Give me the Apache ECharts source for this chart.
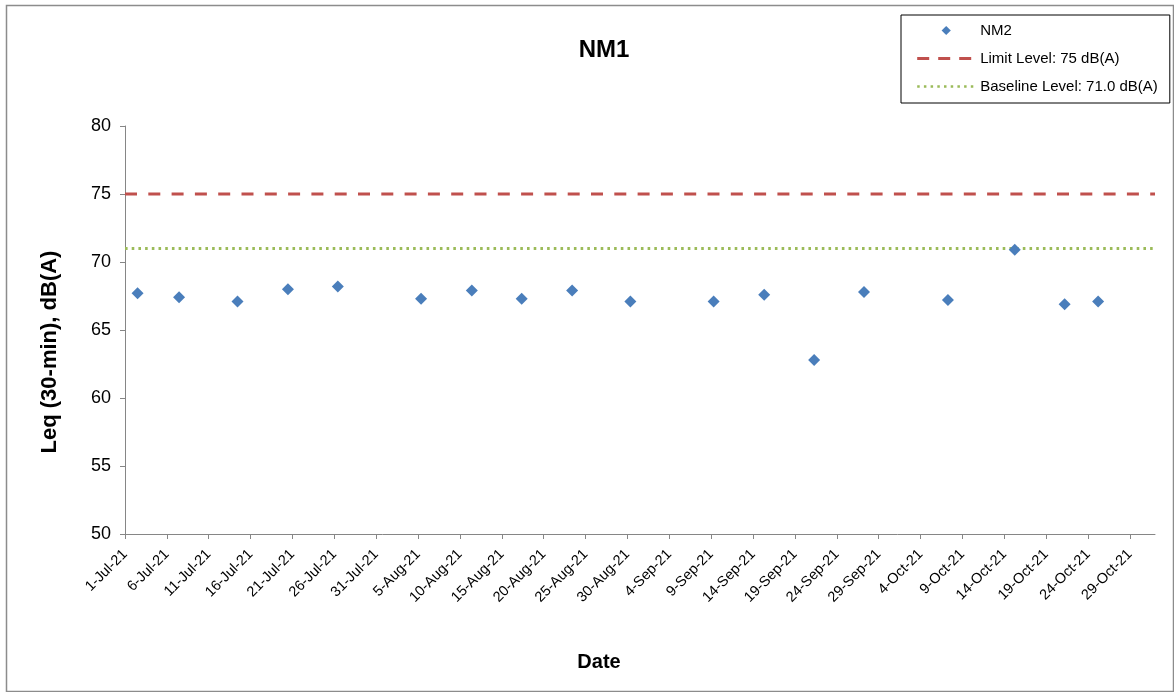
<!DOCTYPE html>
<html>
<head>
<meta charset="utf-8">
<script src="https://cdn.jsdelivr.net/npm/echarts@6/dist/echarts.min.js"></script>
<style>
html,body{margin:0;padding:0;background:#fff;}
#chart{width:1174px;height:692px;}
</style>
</head>
<body>
<div id="chart"></div>
<script>
// ---- data ----
const startDate = '2021-07-01T00:00Z';
const endDate = '2021-11-01T00:00Z';
const measureDates = [
  '2021-07-02T12:00Z','2021-07-07T11:00Z','2021-07-14T10:30Z','2021-07-20T11:00Z',
  '2021-07-26T10:00Z','2021-08-05T08:30Z','2021-08-11T10:00Z','2021-08-17T09:00Z',
  '2021-08-23T09:30Z','2021-08-30T08:30Z','2021-09-09T07:00Z','2021-09-15T08:00Z',
  '2021-09-21T07:00Z','2021-09-27T06:00Z','2021-10-07T06:30Z','2021-10-15T06:00Z',
  '2021-10-21T05:00Z','2021-10-25T05:00Z'
];
const nm2Values = [67.7,67.4,67.1,68.0,68.2,67.3,67.9,67.3,67.9,67.1,67.1,67.6,62.8,67.8,67.2,70.9,66.9,67.1];
const limitLevel = 75;
const baselineLevel = 71.0;
const tickLabels = ['1-Jul-21','6-Jul-21','11-Jul-21','16-Jul-21','21-Jul-21','26-Jul-21','31-Jul-21',
  '5-Aug-21','10-Aug-21','15-Aug-21','20-Aug-21','25-Aug-21','30-Aug-21','4-Sep-21','9-Sep-21',
  '14-Sep-21','19-Sep-21','24-Sep-21','29-Sep-21','4-Oct-21','9-Oct-21','14-Oct-21','19-Oct-21',
  '24-Oct-21','29-Oct-21'];
const tickStepDays = 5;
const yTicks = [50,55,60,65,70,75,80];

// ---- build ----
const DAY = 86400000;
const t0 = Date.parse(startDate);
const dayOf = s => (Date.parse(s) - t0) / DAY;
const xMax = dayOf(endDate);
const tickValues = tickLabels.map((_, i) => i * tickStepDays);
const scatterData = measureDates.map((d, i) => [dayOf(d), nm2Values[i]]);
const FONT = 'Liberation Sans, Arial, sans-serif';
const BLUE = '#4A7EBB', RED = '#C0504D', GREEN = '#9BBB59';

const chart = echarts.init(document.getElementById('chart'), null, {renderer: 'canvas'});
chart.setOption({
  animation: false,
  backgroundColor: '#fff',
  textStyle: {fontFamily: FONT},
  title: [
    {text: 'NM1', left: 599, top: 33, textAlign: 'center',
     textStyle: {fontSize: 24, fontWeight: 'bold', color: '#000', fontFamily: FONT}},
    {text: 'Date', left: 594, top: 647, textAlign: 'center',
     textStyle: {fontSize: 20, fontWeight: 'bold', color: '#000', fontFamily: FONT}}
  ],
  graphic: [
    {
      type: 'rect', left: 4, top: 3, silent: true, z: -10,
      shape: {width: 1167, height: 686},
      style: {fill: null, stroke: '#8c8c8c', lineWidth: 1.5}
    },
    {
      type: 'text', x: 50, y: 352, rotation: Math.PI / 2, silent: true,
      style: {text: 'Leq (30-min), dB(A)', align: 'center', verticalAlign: 'middle',
              font: 'bold 22px ' + FONT, fill: '#000'}
    }
  ],
  legend: {
    orient: 'vertical', left: 901, top: 15,
    padding: [8, 12, 9, 14.7], itemGap: 13,
    itemWidth: 58, itemHeight: 14,
    backgroundColor: '#fff', borderColor: '#000', borderWidth: 1,
    symbolKeepAspect: true,
    textStyle: {fontSize: 15, color: '#000', fontFamily: FONT},
    data: [
      {name: 'NM2', icon: 'path://M0,0M58,14M29,2.4L33.6,7L29,11.6L24.4,7Z', itemStyle: {opacity: 1}},
      {name: 'Limit Level: 75 dB(A)', itemStyle: {opacity: 0},
       lineStyle: {width: 3, type: [12, 9], color: RED}},
      {name: 'Baseline Level: 71.0 dB(A)', itemStyle: {opacity: 0},
       lineStyle: {width: 2.5, type: [2.5, 4.2], color: GREEN}}
    ]
  },
  grid: {left: 125, right: 19, top: 126, bottom: 158, containLabel: false},
  xAxis: {
    type: 'value', min: 0, max: xMax,
    splitLine: {show: false},
    axisLine: {show: true, lineStyle: {color: '#868686', width: 1}},
    axisTick: {show: true, inside: false, length: 5, lineStyle: {color: '#868686'}, customValues: tickValues},
    axisLabel: {
      customValues: tickValues, rotate: 45, margin: 18,
      fontSize: 14.5, color: '#000', fontFamily: FONT,
      formatter: v => tickLabels[Math.round(v / tickStepDays)] || ''
    }
  },
  yAxis: {
    type: 'value', min: yTicks[0], max: yTicks[yTicks.length - 1], interval: 5,
    splitLine: {show: false},
    axisLine: {show: true, lineStyle: {color: '#868686', width: 1}},
    axisTick: {show: true, inside: false, length: 5, lineStyle: {color: '#868686'}},
    axisLabel: {fontSize: 18, color: '#000', margin: 14, fontFamily: FONT}
  },
  series: [
    {
      name: 'NM2', type: 'scatter', symbol: 'diamond', symbolSize: 12,
      itemStyle: {color: BLUE, opacity: 1}, data: scatterData, z: 5
    },
    {
      name: 'Limit Level: 75 dB(A)', type: 'line', symbol: 'none',
      lineStyle: {color: RED, width: 3, type: [12, 11.3]},
      itemStyle: {color: RED},
      data: [[0, limitLevel], [xMax, limitLevel]], z: 3
    },
    {
      name: 'Baseline Level: 71.0 dB(A)', type: 'line', symbol: 'none',
      lineStyle: {color: GREEN, width: 3, type: [2.6, 4.1]},
      itemStyle: {color: GREEN},
      data: [[0, baselineLevel], [xMax, baselineLevel]], z: 3
    }
  ]
});
</script>
</body>
</html>
